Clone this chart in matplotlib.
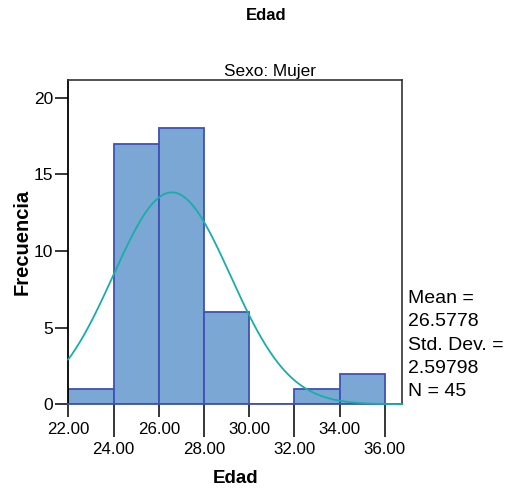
import numpy as np
import matplotlib
matplotlib.use('Agg')
import matplotlib.pyplot as plt

# Data
bin_edges = [22, 24, 26, 28, 30, 32, 34, 36]
counts = [1, 17, 18, 6, 0, 1, 2]
mean_val = 26.5778
std_val = 2.59798
n_val = 45
x_upper_ticks = [22, 26, 30, 34]
x_lower_ticks = [24, 28, 32, 36]
y_ticks = [0, 5, 10, 15, 20]
stats_lines = ["Mean =", "26.5778", "Std. Dev. =", "2.59798", "N = 45"]

plt.rcParams['font.family'] = ['Liberation Sans', 'DejaVu Sans']

W, H = 507, 488
fig = plt.figure(figsize=(W / 100, H / 100), dpi=100)

def fx(px):
    return px / W

def fy(py):
    return 1 - py / H

left, right, top, bottom = 68.3, 402.3, 80.0, 404.3
ax = fig.add_axes([fx(left), fy(bottom), (right - left) / W, (bottom - top) / H])

fill_c = '#7BA7D5'
edge_c = '#3F51B5'
curve_c = '#1AADA8'

widths = np.diff(bin_edges)
ax.bar(bin_edges[:-1], counts, width=widths, align='edge', color=fill_c,
       edgecolor=edge_c, linewidth=1.3, zorder=2)

xmin, xmax = 22, 36.77
xs = np.linspace(xmin, xmax, 400)
binw = widths[0]
ys = n_val * binw / (std_val * np.sqrt(2 * np.pi)) * np.exp(-0.5 * ((xs - mean_val) / std_val) ** 2)
ax.plot(xs, ys, color=curve_c, lw=1.3, zorder=3, clip_on=False)

ax.set_xlim(xmin, xmax)
ax.set_ylim(0, 21.15)

ax.set_xticks(x_upper_ticks)
ax.set_xticklabels([f'{v:.2f}' for v in x_upper_ticks])
ax.set_xticks(x_lower_ticks, minor=True)
ax.set_xticklabels([f'{v:.2f}' for v in x_lower_ticks], minor=True)
ax.tick_params(axis='x', which='major', length=9.4, width=1.1, pad=3.3,
               labelsize=12.2, color='black', direction='out')
ax.tick_params(axis='x', which='minor', length=23.8, width=1.1, pad=3.0,
               labelsize=12.2, color='black', direction='out')

ax.set_yticks(y_ticks)
ax.set_yticklabels([str(v) for v in y_ticks])
ax.tick_params(axis='y', which='major', length=9.6, width=1.1, pad=1.5,
               labelsize=12.5, color='black', direction='out')

ax.spines['left'].set_color('black')
ax.spines['left'].set_linewidth(1.3)
for s in ['top', 'right']:
    ax.spines[s].set_color('#333333')
    ax.spines[s].set_linewidth(1.2)
ax.spines['bottom'].set_color(edge_c)
ax.spines['bottom'].set_linewidth(1.3)

# Texts
fig.text(fx(266), fy(20), 'Edad', ha='center', va='baseline', fontsize=12,
         fontweight='bold')
fig.text(fx(270), fy(76), 'Sexo: Mujer', ha='center', va='baseline', fontsize=12.4)
fig.text(fx(235.3), fy(483.3), 'Edad', ha='center', va='baseline', fontsize=13.5,
         fontweight='bold')
fig.text(fx(32), fy(242), 'Frecuencia', ha='right', va='center', rotation=90,
         fontsize=14.5, fontweight='bold')

baselines = [303.3, 326.5, 349.7, 373.0, 396.0]
for line, b in zip(stats_lines, baselines):
    fig.text(fx(407.7), fy(b), line, ha='left', va='baseline', fontsize=14)

fig.savefig('out.png', dpi=100)
